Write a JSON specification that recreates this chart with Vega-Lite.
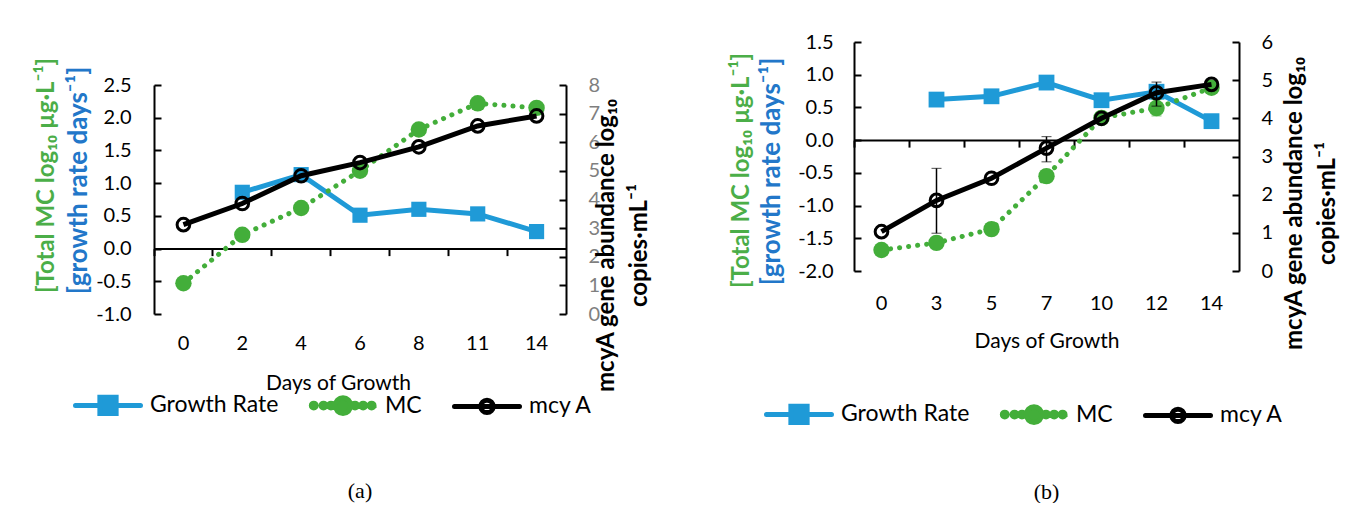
{
  "$schema": "https://vega.github.io/schema/vega-lite/v6.json",
  "padding": {"left": 34, "top": 32, "right": 5, "bottom": 0},
  "background": "white",
  "config": {
    "font": "Lato",
    "view": {"stroke": null},
    "axis": {"labelFont": "Lato", "titleFont": "Lato", "grid": false},
    "legend": {"labelFont": "Lato"},
    "title": {"font": "Liberation Serif"}
  },
  "datasets": {
    "aGrowth": [
      {"day": 2, "value": 0.86}, {"day": 4, "value": 1.13}, {"day": 6, "value": 0.51},
      {"day": 8, "value": 0.60}, {"day": 11, "value": 0.53}, {"day": 14, "value": 0.26}
    ],
    "aMC": [
      {"day": 0, "value": -0.53}, {"day": 2, "value": 0.21}, {"day": 4, "value": 0.62}, {"day": 6, "value": 1.19},
      {"day": 8, "value": 1.82}, {"day": 11, "value": 2.22}, {"day": 14, "value": 2.15}
    ],
    "aMcyA": [
      {"day": 0, "value": 3.12}, {"day": 2, "value": 3.86}, {"day": 4, "value": 4.83}, {"day": 6, "value": 5.29},
      {"day": 8, "value": 5.84}, {"day": 11, "value": 6.57}, {"day": 14, "value": 6.92}
    ],
    "bGrowth": [
      {"day": 3, "value": 0.62}, {"day": 5, "value": 0.67}, {"day": 7, "value": 0.88},
      {"day": 10, "value": 0.61}, {"day": 12, "value": 0.74}, {"day": 14, "value": 0.29}
    ],
    "bMC": [
      {"day": 0, "value": -1.68}, {"day": 3, "value": -1.57}, {"day": 5, "value": -1.36}, {"day": 7, "value": -0.55},
      {"day": 10, "value": 0.34}, {"day": 12, "value": 0.49}, {"day": 14, "value": 0.80}
    ],
    "bMCErr": [
      {"day": 12, "lo": 0.37, "hi": 0.62}
    ],
    "bMcyA": [
      {"day": 0, "value": 1.03}, {"day": 3, "value": 1.85}, {"day": 5, "value": 2.43}, {"day": 7, "value": 3.22},
      {"day": 10, "value": 4.00}, {"day": 12, "value": 4.67}, {"day": 14, "value": 4.89}
    ],
    "bMcyAErr": [
      {"day": 3, "lo": 0.99, "hi": 2.69}, {"day": 7, "lo": 2.86, "hi": 3.52}, {"day": 12, "lo": 4.32, "hi": 4.95}
    ],
    "empty": []
  },
  "hconcat": [
    {
      "spacing": 0,
      "vconcat": [
        {"width": 412, "height": 14.5, "data": {"name": "empty"}, "mark": "point", "encoding": {}},
        {
          "width": 412,
          "height": 229,
          "title": {"text": "(a)", "orient": "bottom", "fontSize": 22, "fontWeight": "normal", "color": "black", "offset": 88, "anchor": "middle"},
          "layer": [
            {
              "data": {"name": "aGrowth"},
              "encoding": {
                "x": {"field": "day", "type": "ordinal", "bandPosition": 0.5,
                  "scale": {"type": "band", "paddingInner": 0, "paddingOuter": 0},
                  "axis": {"orient": "bottom", "offset": -65.4, "labels": false, "title": null, "domain": true, "domainColor": "black", "domainWidth": 2, "ticks": true, "tickColor": "black", "tickWidth": 2, "tickSize": 7, "bandPosition": 0}},
                "y": {"field": "value", "type": "quantitative",
                  "scale": {"domain": [-1, 2.5], "nice": false, "zero": false},
                  "axis": {"orient": "left", "values": [-1, -0.5, 0, 0.5, 1, 1.5, 2, 2.5], "labelExpr": "replace(format(datum.value, '.1f'), '\u2212', '-')",
                    "domainColor": "black", "domainWidth": 2, "tickColor": "black", "tickWidth": 2, "tickSize": -7, "labelPadding": 30,
                    "labelFontSize": 20, "labelColor": "black",
                    "title": "[growth rate days\u207b\u00b9]", "titleColor": "#2277C9", "titleFontSize": 26, "titleFontWeight": "bold",
                    "titleX": -76, "titleY": 95, "titleAngle": 270, "titleBaseline": "middle", "titleAlign": "center"}}
              },
              "layer": [
                {"mark": {"type": "line", "strokeWidth": 5},
                  "encoding": {"color": {"datum": "Growth Rate", "type": "nominal",
                    "scale": {"domain": ["Growth Rate", "MC", "mcy A"], "range": ["#1F9AD7", "#43AE3A", "black"]},
                    "legend": {"orient": "none", "legendX": -81, "legendY": 328, "direction": "horizontal", "title": null,
                      "symbolSize": 4225, "symbolStrokeWidth": 5, "labelFontSize": 23, "labelColor": "black", "labelOffset": 7, "columnPadding": 22,
                      "encode": {"symbols": {"update": {
                        "shape": {"signal": "datum.value === 'Growth Rate' ? 'M-1,0H1M-0.25,-0.25H0.25V0.25H-0.25Z' : datum.value === 'MC' ? 'M-0.825,0A0.075,0.075,0,1,1,-0.975,0A0.075,0.075,0,1,1,-0.825,0ZM-0.525,0A0.075,0.075,0,1,1,-0.675,0A0.075,0.075,0,1,1,-0.525,0ZM-0.295,0A0.075,0.075,0,1,1,-0.445,0A0.075,0.075,0,1,1,-0.295,0ZM0.445,0A0.075,0.075,0,1,1,0.295,0A0.075,0.075,0,1,1,0.445,0ZM0.695,0A0.075,0.075,0,1,1,0.545,0A0.075,0.075,0,1,1,0.695,0ZM0.955,0A0.075,0.075,0,1,1,0.805,0A0.075,0.075,0,1,1,0.955,0ZM0.24,0A0.24,0.24,0,1,1,-0.24,0A0.24,0.24,0,1,1,0.24,0Z' : 'M-1,0H1M0.19,0A0.19,0.19,0,1,1,-0.19,0A0.19,0.19,0,1,1,0.19,0Z'"},
                        "fill": {"signal": "datum.value === 'Growth Rate' ? '#1F9AD7' : datum.value === 'MC' ? '#43AE3A' : 'transparent'"},
                        "stroke": {"signal": "datum.value === 'Growth Rate' ? '#1F9AD7' : datum.value === 'MC' ? 'transparent' : 'black'"},
                        "strokeCap": {"value": "round"},
                        "strokeWidth": {"value": 5},
                        "opacity": {"value": 1},
                        "fillOpacity": {"value": 1}
                      }}}}}}},
                {"mark": {"type": "point", "shape": "square", "filled": true, "size": 230, "color": "#1F9AD7", "opacity": 1}}
              ]
            },
            {
              "data": {"name": "aMC"},
              "encoding": {
                "x": {"field": "day", "type": "ordinal", "bandPosition": 0.5,
                  "axis": {"orient": "bottom", "domain": false, "ticks": false, "tickSize": 0, "labelPadding": 19, "labelFontSize": 20, "labelColor": "black", "labelAngle": 0,
                    "title": "Days of Growth", "titleFontSize": 21, "titleFontWeight": "normal", "titleColor": "black",
                    "titleX": 184, "titleY": 69, "titleBaseline": "middle", "titleAlign": "center"}},
                "y": {"field": "value", "type": "quantitative",
                  "scale": {"domain": [-1, 2.5], "nice": false, "zero": false},
                  "axis": {"orient": "left", "labels": false, "ticks": false, "domain": false,
                    "title": "[Total MC log\u2081\u2080 \u00b5g\u00b7L\u207b\u00b9]", "titleColor": "#4BAE48", "titleFontSize": 24, "titleFontWeight": "bold",
                    "titleX": -108, "titleY": 90, "titleAngle": 270, "titleBaseline": "middle", "titleAlign": "center"}}
              },
              "layer": [
                {"mark": {"type": "line", "strokeWidth": 5, "strokeDash": [0.1, 9], "strokeCap": "round"},
                  "encoding": {"color": {"datum": "MC", "type": "nominal"}}},
                {"mark": {"type": "point", "shape": "circle", "filled": true, "size": 270, "color": "#43AE3A", "opacity": 1}}
              ]
            },
            {
              "data": {"name": "aMcyA"},
              "encoding": {
                "x": {"field": "day", "type": "ordinal", "bandPosition": 0.5, "axis": null},
                "y": {"field": "value", "type": "quantitative",
                  "scale": {"domain": [0, 8], "nice": false, "zero": false},
                  "axis": {"orient": "right", "values": [0, 1, 2, 3, 4, 5, 6, 7, 8],
                    "domainColor": "black", "domainWidth": 2, "tickColor": "black", "tickWidth": 2, "tickSize": -7, "labelPadding": 29,
                    "labelFontSize": 20, "labelColor": "#7F7F7F",
                    "title": ["mcyA gene abundance log\u2081\u2080", "copies\u00b7mL\u207b\u00b9"], "titleColor": "black", "titleFontSize": 24, "titleFontWeight": "bold",
                    "titleLineHeight": 33, "titleX": 40, "titleY": 160, "titleAngle": 270, "titleBaseline": "middle", "titleAlign": "center"}}
              },
              "layer": [
                {"mark": {"type": "line", "strokeWidth": 5},
                  "encoding": {"color": {"datum": "mcy A", "type": "nominal"}}},
                {"mark": {"type": "point", "shape": "circle", "filled": false, "size": 160, "strokeWidth": 3, "color": "black", "opacity": 1}}
              ]
            }
          ],
          "resolve": {"scale": {"y": "independent"}, "axis": {"x": "independent", "y": "independent"}}
        }
      ]
    },
    {
      "width": 385,
      "height": 229,
      "title": {"text": "(b)", "orient": "bottom", "fontSize": 22, "fontWeight": "normal", "color": "black", "offset": 49, "anchor": "middle"},
      "layer": [
        {
          "data": {"name": "bGrowth"},
          "encoding": {
            "x": {"field": "day", "type": "ordinal", "bandPosition": 0.5,
              "scale": {"type": "band", "paddingInner": 0, "paddingOuter": 0, "domain": [0, 3, 5, 7, 10, 12, 14]},
              "axis": {"orient": "bottom", "offset": -130.9, "labels": false, "title": null, "domain": true, "domainColor": "black", "domainWidth": 2, "ticks": true, "tickColor": "black", "tickWidth": 2, "tickSize": 7, "bandPosition": 0}},
            "y": {"field": "value", "type": "quantitative",
              "scale": {"domain": [-2, 1.5], "nice": false, "zero": false},
              "axis": {"orient": "left", "values": [-2, -1.5, -1, -0.5, 0, 0.5, 1, 1.5], "labelExpr": "replace(format(datum.value, '.1f'), '\u2212', '-')",
                "domainColor": "black", "domainWidth": 2, "tickColor": "black", "tickWidth": 2, "tickSize": -7, "labelPadding": 28,
                "labelFontSize": 20, "labelColor": "black",
                "title": "[growth rate days\u207b\u00b9]", "titleColor": "#2277C9", "titleFontSize": 26, "titleFontWeight": "bold",
                "titleX": -83, "titleY": 129, "titleAngle": 270, "titleBaseline": "middle", "titleAlign": "center"}}
          },
          "layer": [
            {"mark": {"type": "line", "strokeWidth": 5},
              "encoding": {"color": {"datum": "Growth Rate", "type": "nominal",
                "scale": {"domain": ["Growth Rate", "MC", "mcy A"], "range": ["#1F9AD7", "#43AE3A", "black"]},
                "legend": {"orient": "none", "legendX": -90, "legendY": 337, "direction": "horizontal", "title": null,
                  "symbolSize": 4225, "symbolStrokeWidth": 5, "labelFontSize": 23, "labelColor": "black", "labelOffset": 7, "columnPadding": 22,
                  "encode": {"symbols": {"update": {
                    "shape": {"signal": "datum.value === 'Growth Rate' ? 'M-1,0H1M-0.25,-0.25H0.25V0.25H-0.25Z' : datum.value === 'MC' ? 'M-0.825,0A0.075,0.075,0,1,1,-0.975,0A0.075,0.075,0,1,1,-0.825,0ZM-0.525,0A0.075,0.075,0,1,1,-0.675,0A0.075,0.075,0,1,1,-0.525,0ZM-0.295,0A0.075,0.075,0,1,1,-0.445,0A0.075,0.075,0,1,1,-0.295,0ZM0.445,0A0.075,0.075,0,1,1,0.295,0A0.075,0.075,0,1,1,0.445,0ZM0.695,0A0.075,0.075,0,1,1,0.545,0A0.075,0.075,0,1,1,0.695,0ZM0.955,0A0.075,0.075,0,1,1,0.805,0A0.075,0.075,0,1,1,0.955,0ZM0.24,0A0.24,0.24,0,1,1,-0.24,0A0.24,0.24,0,1,1,0.24,0Z' : 'M-1,0H1M0.19,0A0.19,0.19,0,1,1,-0.19,0A0.19,0.19,0,1,1,0.19,0Z'"},
                    "fill": {"signal": "datum.value === 'Growth Rate' ? '#1F9AD7' : datum.value === 'MC' ? '#43AE3A' : 'transparent'"},
                    "stroke": {"signal": "datum.value === 'Growth Rate' ? '#1F9AD7' : datum.value === 'MC' ? 'transparent' : 'black'"},
                    "strokeCap": {"value": "round"},
                    "strokeWidth": {"value": 5},
                    "opacity": {"value": 1},
                    "fillOpacity": {"value": 1}
                  }}}}}}},
            {"mark": {"type": "point", "shape": "square", "filled": true, "size": 250, "color": "#1F9AD7", "opacity": 1}}
          ]
        },
        {
          "data": {"name": "bMC"},
          "encoding": {
            "x": {"field": "day", "type": "ordinal", "bandPosition": 0.5,
              "axis": {"orient": "bottom", "domain": false, "ticks": false, "tickSize": 0, "labelPadding": 22, "labelFontSize": 20, "labelColor": "black", "labelAngle": 0,
                "title": "Days of Growth", "titleFontSize": 21, "titleFontWeight": "normal", "titleColor": "black",
                "titleY": 70, "titleBaseline": "middle", "titleAlign": "center"}},
            "y": {"field": "value", "type": "quantitative",
              "scale": {"domain": [-2, 1.5], "nice": false, "zero": false},
              "axis": {"orient": "left", "labels": false, "ticks": false, "domain": false,
                "title": "[Total MC log\u2081\u2080 \u00b5g\u00b7L\u207b\u00b9]", "titleColor": "#4BAE48", "titleFontSize": 24, "titleFontWeight": "bold",
                "titleX": -113, "titleY": 128, "titleAngle": 270, "titleBaseline": "middle", "titleAlign": "center"}}
          },
          "layer": [
            {"data": {"name": "bMCErr"},
              "mark": {"type": "errorbar", "color": "#43AE3A", "ticks": {"size": 10}, "rule": {"strokeWidth": 1.5}},
              "encoding": {"y": {"field": "lo", "type": "quantitative", "title": "[Total MC log\u2081\u2080 \u00b5g\u00b7L\u207b\u00b9]"}, "y2": {"field": "hi"}}},
            {"mark": {"type": "line", "strokeWidth": 5, "strokeDash": [0.1, 9], "strokeCap": "round"},
              "encoding": {"color": {"datum": "MC", "type": "nominal"}}},
            {"mark": {"type": "point", "shape": "circle", "filled": true, "size": 270, "color": "#43AE3A", "opacity": 1}}
          ]
        },
        {
          "data": {"name": "bMcyA"},
          "encoding": {
            "x": {"field": "day", "type": "ordinal", "bandPosition": 0.5, "axis": null},
            "y": {"field": "value", "type": "quantitative",
              "scale": {"domain": [0, 6], "nice": false, "zero": false},
              "axis": {"orient": "right", "values": [0, 1, 2, 3, 4, 5, 6],
                "domainColor": "black", "domainWidth": 2, "tickColor": "black", "tickWidth": 2, "tickSize": -7, "labelPadding": 29,
                "labelFontSize": 20, "labelColor": "black",
                "title": ["mcyA gene abundance log\u2081\u2080", "copies\u00b7mL\u207b\u00b9"], "titleColor": "black", "titleFontSize": 24, "titleFontWeight": "bold",
                "titleLineHeight": 33, "titleX": 55, "titleY": 161, "titleAngle": 270, "titleBaseline": "middle", "titleAlign": "center"}}
          },
          "layer": [
            {"data": {"name": "bMcyAErr"},
              "mark": {"type": "errorbar", "color": "black", "ticks": {"size": 10}, "rule": {"strokeWidth": 1.5}},
              "encoding": {"y": {"field": "lo", "type": "quantitative", "title": ["mcyA gene abundance log\u2081\u2080", "copies\u00b7mL\u207b\u00b9"]}, "y2": {"field": "hi"}}},
            {"mark": {"type": "line", "strokeWidth": 5},
              "encoding": {"color": {"datum": "mcy A", "type": "nominal"}}},
            {"mark": {"type": "point", "shape": "circle", "filled": false, "size": 160, "strokeWidth": 3, "color": "black", "opacity": 1}}
          ]
        }
      ],
      "resolve": {"scale": {"y": "independent"}, "axis": {"x": "independent", "y": "independent"}}
    }
  ],
  "resolve": {"scale": {"color": "independent"}},
  "spacing": 78
}
